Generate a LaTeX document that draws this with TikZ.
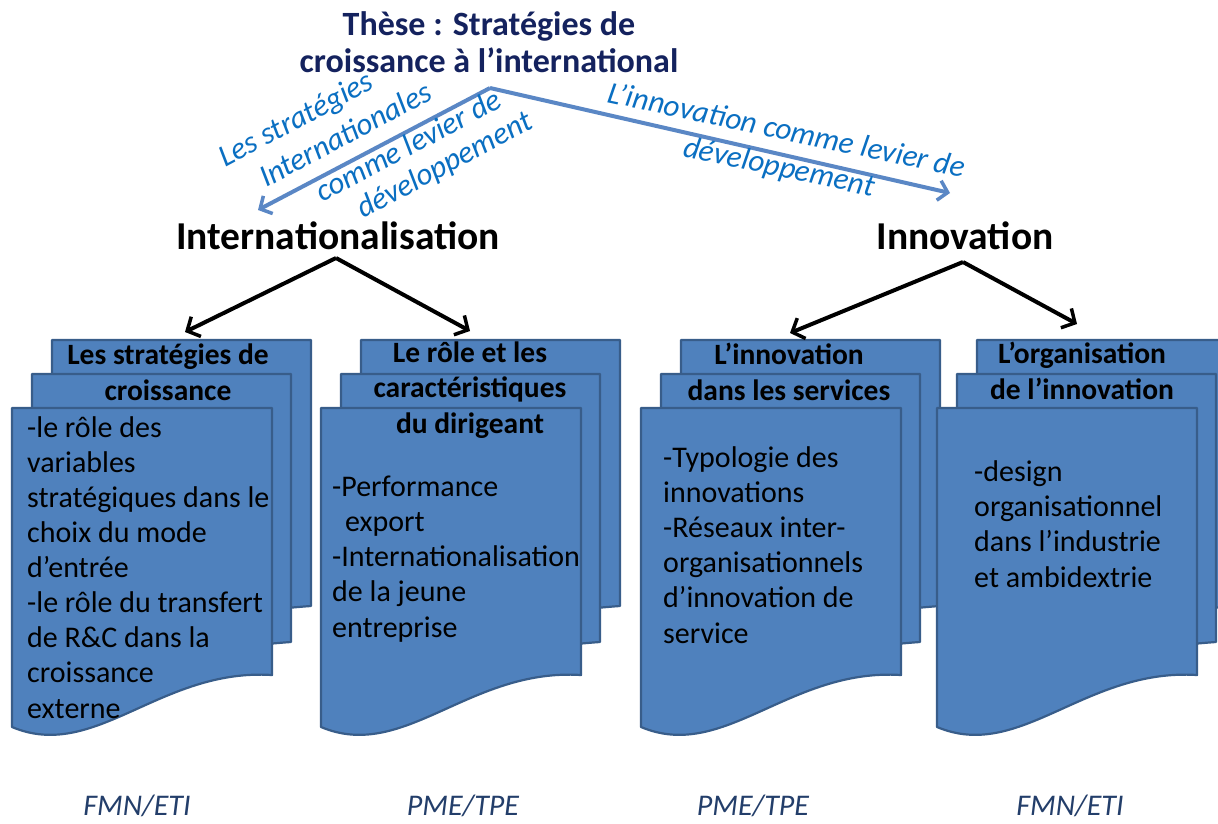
\documentclass[tikz,border=0pt]{standalone}
\usepackage{fontspec}
\setmainfont{Carlito}
\usetikzlibrary{arrows.meta}
\definecolor{docfill}{HTML}{4F81BD}
\definecolor{docline}{HTML}{385D8A}
\definecolor{titleblue}{HTML}{14225E}
\definecolor{arrowblue}{HTML}{5A87C5}
\definecolor{labelblue}{HTML}{0A6FC2}
\definecolor{bottomblue}{HTML}{233E6A}
\tikzset{
  page/.style={fill=docfill, draw=docline, line width=2.2pt, line join=round},
  body/.style={font=\fontsize{30}{35.1}\selectfont, align=left, anchor=base west, inner sep=0pt},
  head/.style={font=\bfseries\fontsize{29.5}{35.1}\selectfont, align=center, anchor=base, inner sep=0pt},
  titletext/.style={font=\bfseries\fontsize{34}{37}\selectfont, text=titleblue, align=center, anchor=base, inner sep=0pt},
  branch/.style={font=\bfseries\fontsize{39.5}{44}\selectfont, anchor=base, inner sep=0pt},
  bluelab/.style={font=\itshape\fontsize{31}{35}\selectfont, text=labelblue, anchor=base west, inner sep=0pt},
  bottomlab/.style={font=\itshape\fontsize{30}{35}\selectfont, text=bottomblue, anchor=base, inner sep=0pt},
  bluearrow/.style={draw=arrowblue, line width=4pt, -{Straight Barb[length=9pt,width=20pt,line width=3.5pt]}},
  blackarrow/.style={draw=black, line width=4pt, -{Straight Barb[length=10pt,width=22pt,line width=3.5pt]}}
}
\newcommand\docstackshape[1]{%
  \begin{scope}[xshift=#1pt]
    \draw[page] (40,340) -- (299,340) -- (299,606) .. controls (270,608) and (240,612) .. (200,615) -- (40,625) -- cycle;
    \draw[page] (20,374) -- (279,374) -- (279,642) .. controls (250,644) and (220,648) .. (180,651) -- (20,660) -- cycle;
    \draw[page] (0,408) -- (260,408) -- (260,675) .. controls (148,668) and (83,762) .. (0,727) -- cycle;
  \end{scope}}
\begin{document}
\begin{tikzpicture}[x=1pt,y=-1pt]
\useasboundingbox[fill=white] (0,0) rectangle (1218,823);

% title (anchor = baseline of last line)
\node[titletext] (title) at (489,72) {Thèse : Stratégies de\\croissance à l’international};
\coordinate (peak) at (490,88);
\coordinate (bluel) at (258,210);
\coordinate (bluer) at (950,193);
\draw[bluearrow] (peak) -- (bluel);
\draw[bluearrow] (peak) -- (bluer);

% rotated labels
\node[bluelab, rotate=28] (la) at (225,168) {Les stratégies};
\node[bluelab, rotate=28] (lb) at (266,188) {Internationales};
\node[bluelab, rotate=28] (lc) at (322,203) {comme levier de};
\node[bluelab, rotate=28] (ld) at (363,219) {développement};
\node[bluelab, rotate=-12] (ra) at (606,102) {L’innovation comme levier de};
\node[bluelab, rotate=-12] (rb) at (682,156) {développement};

% branches
\node[branch] (intl) at (338,249) {Internationalisation};
\node[branch] (innov) at (965,249) {Innovation};
\coordinate (intlapex) at (336,258);
\coordinate (innovapex) at (963,262);

% document stacks
\docstackshape{12}
\docstackshape{321}
\docstackshape{641}
\docstackshape{937}

\coordinate (s1) at (185,332);
\coordinate (s2) at (470,331);
\coordinate (s3) at (790,333);
\coordinate (s4) at (1077,324);
\draw[blackarrow] (intlapex) -- (s1);
\draw[blackarrow] (intlapex) -- (s2);
\draw[blackarrow] (innovapex) -- (s3);
\draw[blackarrow] (innovapex) -- (s4);

% stack 1 (anchors = baseline of last line)
\node[head] (h1) at (168,400) {Les stratégies de\\croissance};
\node[body] (b1) at (27,718) {-le rôle des\\variables\\stratégiques dans le\\choix du mode\\d’entrée\\-le rôle du transfert\\de R\&C dans la\\croissance\\externe};
% stack 2
\node[head] (h2) at (470,433) {Le rôle et les\\caractéristiques\\du dirigeant};
\node[body] (b2) at (332,637) {-Performance\\\hspace*{13pt}export\\-Internationalisation\\de la jeune\\entreprise};
% stack 3
\node[head] (h3) at (789,400) {L’innovation\\dans les services};
\node[body] (b3) at (663,643) {-Typologie des\\innovations\\-Réseaux inter-\\organisationnels\\d’innovation de\\service};
% stack 4
\node[head] (h4) at (1082,399) {L’organisation\\de l’innovation};
\node[body] (b4) at (974,587) {-design\\organisationnel\\dans l’industrie\\et ambidextrie};

% bottom labels
\node[bottomlab] (f1) at (137,815) {FMN/ETI};
\node[bottomlab] (f2) at (463,815) {PME/TPE};
\node[bottomlab] (f3) at (753,815) {PME/TPE};
\node[bottomlab] (f4) at (1070,815) {FMN/ETI};
\end{tikzpicture}
\end{document}
